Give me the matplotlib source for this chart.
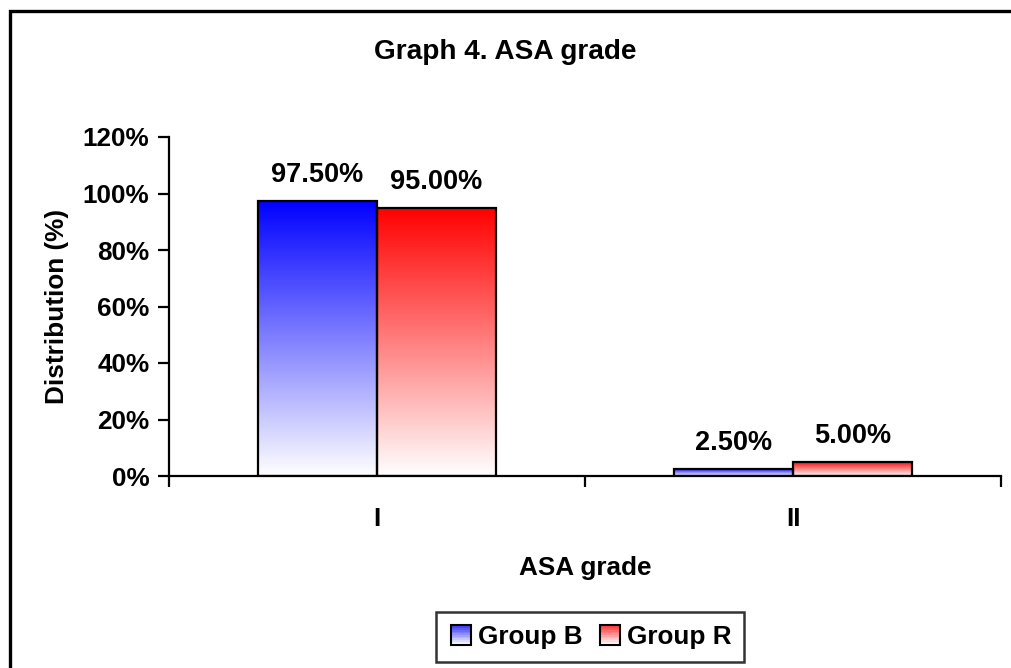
import matplotlib.pyplot as plt
import numpy as np
from matplotlib.colors import LinearSegmentedColormap, to_rgb
from matplotlib.legend_handler import HandlerBase
from matplotlib.patches import Rectangle

plt.rcParams["font.family"] = ["Liberation Sans", "DejaVu Sans"]
plt.rcParams["font.weight"] = "bold"

grades = ["I", "II"]
groups = ["Group B", "Group R"]
group_b = [97.5, 2.5]
group_r = [95.0, 5.0]
colors = ["#0000ff", "#ff0000"]

FS = 18.8
bar_w = 0.286


def gradient_bar(ax, x, h, color):
    # vertical fade: full colour at top, white at the base
    cmap = LinearSegmentedColormap.from_list("g", ["white", color])
    grad = np.linspace(0, 1, 256).reshape(-1, 1)
    rect = Rectangle((x - bar_w / 2, 0), bar_w, h, facecolor="none",
                     edgecolor="black", lw=1.6, zorder=3)
    ax.add_patch(rect)
    im = ax.imshow(grad, cmap=cmap, origin="lower", aspect="auto",
                   extent=(x - bar_w / 2, x + bar_w / 2, 0, h), zorder=2)
    im.set_clip_path(rect)
    return rect


class GradientHandler(HandlerBase):
    def __init__(self, color):
        super().__init__()
        self.color = color

    def create_artists(self, legend, orig_handle, xd, yd, width, height, fontsize, trans):
        size = height * 1.1
        x0 = -xd + (width - size) / 2
        y0 = -yd + (height - size) / 2
        c = np.array(to_rgb(self.color))
        arts = []
        n = 12
        for k in range(n):
            t = (k / (n - 1)) * 0.8
            col = (1 - t) * np.ones(3) + t * c
            arts.append(Rectangle((x0, y0 + size * k / n), size, size / n,
                                  facecolor=col, edgecolor="none", transform=trans))
        arts.append(Rectangle((x0, y0), size, size, facecolor="none",
                              edgecolor="black", lw=1.5, transform=trans))
        return arts


fig = plt.figure(figsize=(10.11, 6.68), dpi=100)
ax = fig.add_axes([169 / 1011, 1 - 476 / 668, 832 / 1011, 339 / 668])

x = np.arange(len(grades))
handles = []
for vals, col, off in [(group_b, colors[0], -bar_w / 2), (group_r, colors[1], bar_w / 2)]:
    for xi, v in zip(x, vals):
        r = gradient_bar(ax, xi + off, v, col)
        ax.text(xi + off, v + 4.5, f"{v:.2f}%", ha="center", va="bottom",
                fontsize=FS + 0.7, fontweight="bold")
    handles.append(r)

ax.set_xlim(-0.5, 1.5)
ax.set_ylim(0, 120)
ax.set_yticks(np.arange(0, 121, 20))
ax.set_yticklabels([f"{v}%" for v in range(0, 121, 20)], fontsize=FS)
ax.set_xticks([-0.5, 0.5, 1.5])
ax.set_xticklabels([])
ax.set_xticks(x, minor=True)
ax.set_xticklabels(grades, minor=True, fontsize=FS)
ax.tick_params(axis="x", which="minor", length=0, pad=22)
ax.tick_params(axis="both", which="major", direction="out", length=8, width=1.6)
ax.tick_params(axis="y", pad=6)
for s in ["top", "right"]:
    ax.spines[s].set_visible(False)
for s in ["left", "bottom"]:
    ax.spines[s].set_linewidth(1.6)

ax.set_xlabel("ASA grade", fontsize=FS, fontweight="bold", labelpad=18)
ax.set_ylabel("Distribution (%)", fontsize=FS, fontweight="bold", labelpad=10)
fig.text(0.5, 1 - 52 / 668, "Graph 4. ASA grade", ha="center", va="center",
         fontsize=20.2, fontweight="bold")

leg = fig.legend(handles, groups, loc="center", bbox_to_anchor=(590 / 1011, 1 - 637 / 668),
                 ncol=2, fontsize=FS, frameon=True, fancybox=False, handlelength=0.9,
                 handletextpad=0.2, columnspacing=0.6, borderpad=0.5, borderaxespad=0,
                 handler_map={handles[0]: GradientHandler(colors[0]),
                              handles[1]: GradientHandler(colors[1])})
leg.get_frame().set_edgecolor("black")
leg.get_frame().set_linewidth(1.8)

# outer chart frame
fig.patches.append(Rectangle((10 / 1011, -0.2), 1.2, 1.2 - 11 / 668, transform=fig.transFigure,
                             facecolor="none", edgecolor="black", lw=2.4))

fig.savefig("out.png", dpi=100)
